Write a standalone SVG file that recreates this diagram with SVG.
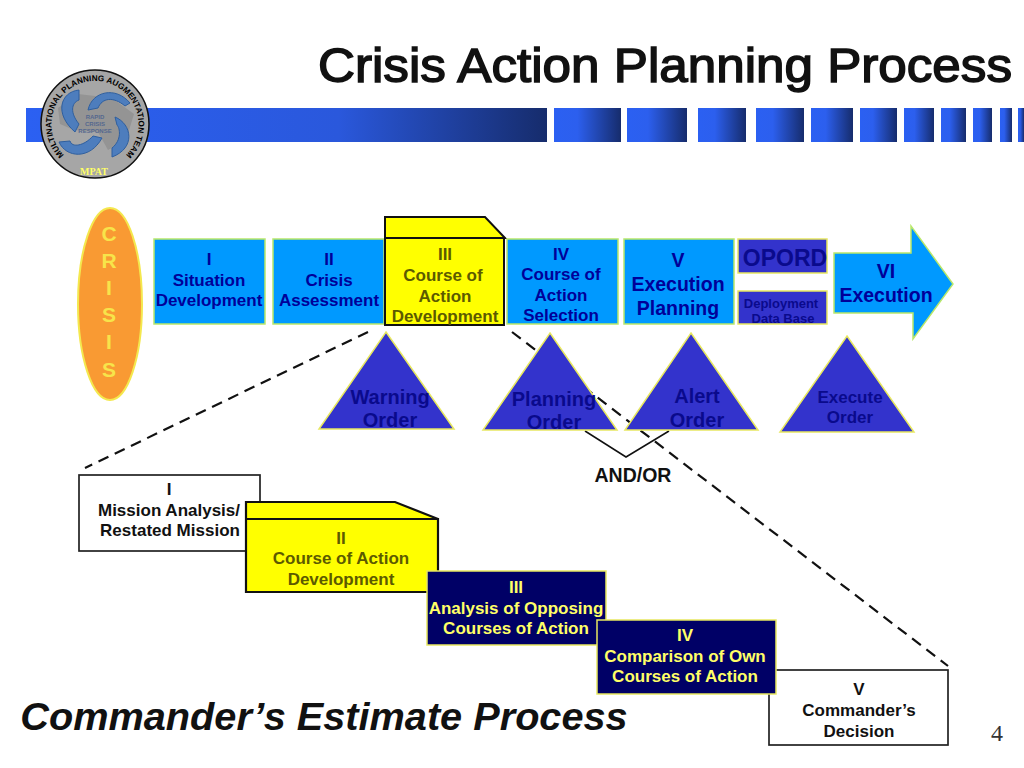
<svg xmlns="http://www.w3.org/2000/svg" width="1024" height="768" viewBox="0 0 1024 768">
<style>
text{font-family:"Liberation Sans",Arial,sans-serif;text-anchor:middle;font-weight:bold}
.b{fill:#0099ff;stroke:#b9e86a;stroke-width:1.5}
.t{fill:#3333cc;stroke:#e8e860;stroke-width:1.5}
.n{fill:#000066;stroke:#e8e860;stroke-width:1.5}
.y{fill:#ffff00;stroke:#111;stroke-width:2}
.w{fill:#fff;stroke:#222;stroke-width:1.7}
.f{fill:none;stroke:#111;stroke-width:2.2}
.s{font-size:17px;fill:#000099}
.d{fill:#0a0a8c}
.k{font-size:17px;fill:#111}
.o{font-size:17px;fill:#5c5a00}
.l{font-size:17px;fill:#ffff66}
.ar{fill:#4d7dbd;stroke:#2f5f9f;stroke-width:1}
</style>
<defs>
<linearGradient id="g" x1="0" x2="1" y1="0" y2="0"><stop offset="0" stop-color="#2b60f2"/><stop offset=".35" stop-color="#2c5fee"/><stop offset="1" stop-color="#162c6c"/></linearGradient>
<linearGradient id="g0" x1="0" x2="1" y1="0" y2="0"><stop offset="0" stop-color="#2b60f2"/><stop offset=".6" stop-color="#2a58dc"/><stop offset="1" stop-color="#162c6c"/></linearGradient>
<path id="arc" d="M75 163A43.500 43.500 0 1 1 115 163"/>
</defs>
<rect width="1024" height="768" fill="#fff"/>
<g id="bars" fill="url(#g)">
<rect x="26" y="108" width="521" height="34" fill="url(#g0)"/>
<rect x="554" y="108" width="67" height="34"/><rect x="627" y="108" width="60" height="34"/><rect x="698" y="108" width="48" height="34"/><rect x="756" y="108" width="48" height="34"/><rect x="811" y="108" width="42" height="34"/><rect x="860" y="108" width="37" height="34"/><rect x="904" y="108" width="30" height="34"/><rect x="941" y="108" width="25" height="34"/><rect x="973" y="108" width="19" height="34"/><rect x="1000" y="108" width="12" height="34"/><rect x="1018" y="108" width="6" height="34"/>
</g>
<g id="title"><text x="665" y="82" style="font-size:48px;font-weight:normal;fill:#111;stroke:#111;stroke-width:1.500" textLength="694" lengthAdjust="spacingAndGlyphs">Crisis Action Planning Process</text></g>
<g id="logo">
<circle cx="95" cy="124" r="54" fill="#a6a6a6" stroke="#111" stroke-width="1.500"/>
<path d="M58 108l20-14 34 4 22 16-8 26-18 10-10-18-24-2-14-6z" fill="#949494"/>
<path class="ar" d="M79 90C60 92 54 114 75 132L79 124C70 113 71 103 79 100Z"/>
<path class="ar" d="M88 110C92 91 116 86 130 103L125 106C113 96 102 98 98 108Z"/>
<path class="ar" d="M115 117C132 124 136 148 112 157L112 148C122 140 120 128 117 125Z"/>
<path class="ar" d="M59 142C66 158 90 160 102 138L93 136C84 146 72 148 70 141Z"/>
<g style="font-size:6px;fill:#55688f;font-weight:normal"><text x="95" y="119">RAPID</text><text x="95" y="126">CRISIS</text><text x="95" y="133">RESPONSE</text></g>
<text style="font-size:8.200px;fill:#000"><textPath href="#arc" startOffset="50%">MULTINATIONAL PLANNING AUGMENTATION TEAM</textPath></text>
<text x="94" y="175" style="font-size:10px;fill:#ffff66;font-family:'Liberation Serif',serif">MPAT</text>
</g>
<g id="connectors">
<path d="M368 332L85 468" fill="none" stroke="#111" stroke-width="2.200" stroke-dasharray="11 7"/>
<path d="M512 332L948 666" fill="none" stroke="#111" stroke-width="2.200" stroke-dasharray="11 7"/>
<path d="M585 431L626 457L669 431" fill="none" stroke="#111" stroke-width="1.500"/>
</g>
<g id="crisis"><ellipse cx="110" cy="304" rx="32" ry="96" fill="#f99a33" stroke="#f4e84e" stroke-width="2"/>
<g style="font-size:21px;fill:#f7e44a"><text x="109" y="241">C</text><text x="109" y="268">R</text><text x="109" y="295">I</text><text x="109" y="322">S</text><text x="109" y="349">I</text><text x="109" y="377">S</text></g></g>
<g id="p1"><rect class="b" x="154" y="239" width="111" height="85"/><text class="s" x="209" y="265">I</text><text class="s" x="209" y="286">Situation</text><text class="s" x="209" y="306">Development</text></g>
<g id="p2"><rect class="b" x="273" y="239" width="111" height="85"/><text class="s" x="329" y="265">II</text><text class="s" x="329" y="286">Crisis</text><text class="s" x="329" y="306">Assessment</text></g>
<g id="p3"><path class="y" d="M385 217H485L505 238H385Z"/><rect class="y" x="385" y="238" width="119" height="87"/><text class="o" x="445" y="260">III</text><text class="o" x="443" y="281">Course of</text><text class="o" x="445" y="302">Action</text><text class="o" x="445" y="322">Development</text></g>
<g id="p4"><rect class="b" x="507" y="239" width="111" height="85"/><text class="s" x="561" y="260">IV</text><text class="s" x="561" y="280">Course of</text><text class="s" x="561" y="301">Action</text><text class="s" x="561" y="321">Selection</text></g>
<g id="p5"><rect class="b" x="624" y="239" width="110" height="85"/><text class="s" x="678" y="267" style="font-size:19.500px">V</text><text class="s" x="678" y="291" style="font-size:19.500px">Execution</text><text class="s" x="678" y="315" style="font-size:19.500px">Planning</text></g>
<g id="opord"><rect class="t" x="738" y="239" width="89" height="34"/><text class="d" x="785" y="266" style="font-size:23px">OPORD</text></g>
<g id="ddb"><rect class="t" x="738" y="291" width="89" height="33"/><text class="d" x="781" y="308" style="font-size:13px">Deployment</text><text class="d" x="783" y="323" style="font-size:13px">Data Base</text></g>
<g id="p6"><path class="b" d="M834 253H911V226L953 284L913 339V313H834Z"/><text class="s" x="886" y="278" style="font-size:19.500px">VI</text><text class="s" x="886" y="302" style="font-size:19.500px">Execution</text></g>
<g id="warning"><path class="t" d="M386 332L454 429H319Z"/><text class="d" x="390" y="404" style="font-size:20px">Warning</text><text class="d" x="390" y="427" style="font-size:20px">Order</text></g>
<g id="planning"><path class="t" d="M550 333L617 430H483Z"/><text class="d" x="554" y="406" style="font-size:20px">Planning</text><text class="d" x="554" y="429" style="font-size:20px">Order</text></g>
<g id="alert"><path class="t" d="M691 333L758 430H625Z"/><text class="d" x="697" y="403" style="font-size:20px">Alert</text><text class="d" x="697" y="427" style="font-size:20px">Order</text></g>
<g id="execute"><path class="t" d="M847 336L914 432H780Z"/><text class="d" x="850" y="403" style="font-size:17px">Execute</text><text class="d" x="850" y="423" style="font-size:17px">Order</text></g>
<g id="andor"><text x="633" y="482" style="font-size:19.500px;fill:#111">AND/OR</text></g>
<g id="e1"><rect class="w" x="79" y="475" width="181" height="76"/><text class="k" x="169" y="495">I</text><text class="k" x="169" y="516">Mission Analysis/</text><text class="k" x="170" y="536">Restated Mission</text></g>
<g id="e2"><path d="M246 502H395L438 519V592H246Z" fill="#ffff00"/><path d="M246 519V592H438V519H246V502H395L438 519" class="f"/><text class="o" x="341" y="544">II</text><text class="o" x="341" y="564">Course of Action</text><text class="o" x="341" y="585">Development</text></g>
<g id="e5"><rect class="w" x="769" y="670" width="179" height="75"/><text class="k" x="859" y="695">V</text><text class="k" x="859" y="716">Commander’s</text><text class="k" x="859" y="737">Decision</text></g>
<g id="e3"><rect class="n" x="427" y="571" width="179" height="74"/><text class="l" x="516" y="593">III</text><text class="l" x="516" y="614">Analysis of Opposing</text><text class="l" x="516" y="634">Courses of Action</text></g>
<g id="e4"><rect class="n" x="597" y="620" width="179" height="74"/><text class="l" x="685" y="641">IV</text><text class="l" x="685" y="662">Comparison of Own</text><text class="l" x="685" y="682">Courses of Action</text></g>
<g id="footer"><text x="324" y="730" style="font-size:39.700px;font-style:italic;fill:#111">Commander’s Estimate Process</text><text x="997" y="741" style="font-family:'Liberation Serif',serif;font-size:24px;font-weight:normal;fill:#333">4</text></g>
</svg>
